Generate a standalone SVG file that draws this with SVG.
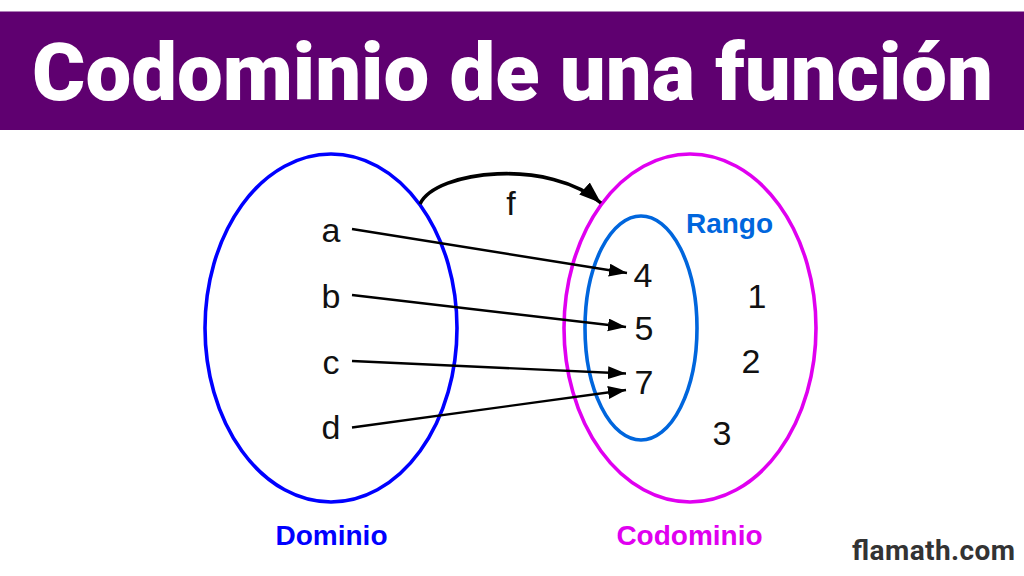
<svg xmlns="http://www.w3.org/2000/svg" width="1024" height="576" viewBox="0 0 1024 576">
<style>
text{font-family:"Liberation Sans",Arial,sans-serif}
.b{font-weight:700;text-anchor:middle}
.l{font-size:34px;fill:#111;text-anchor:middle}
.c{fill:none;stroke:#000;stroke-width:2.4}
.e{fill:none;stroke-width:3.6}
</style>
<defs>
<marker id="a" markerUnits="userSpaceOnUse" markerWidth="20" markerHeight="16" refX="18" refY="6.500" orient="auto"><path d="M0 0L18 6.500L0 13Z" fill="#000"/></marker>
<marker id="b" markerUnits="userSpaceOnUse" markerWidth="24" markerHeight="18" refX="22" refY="8" orient="auto"><path d="M0 0L22 8L0 16Z" fill="#000"/></marker>
</defs>
<rect width="1024" height="576" fill="#fff"/>
<g id="title"><rect x="0" y="11.500" width="1024" height="118.500" fill="#5f0070"/><text x="512.500" y="99.500" font-size="80" font-weight="900" style="font-family:Roboto,sans-serif" fill="#fff" text-anchor="middle" textLength="961" lengthAdjust="spacingAndGlyphs">Codominio de una función</text></g>
<g id="dominio"><ellipse class="e" cx="331" cy="328" rx="126" ry="174" stroke="#0000ff"/><text class="b" x="331.500" y="545" font-size="28" fill="#0000ff">Dominio</text></g>
<g id="codominio"><ellipse class="e" cx="690" cy="328" rx="126" ry="174" stroke="#e000f0"/><text class="b" x="689.500" y="545" font-size="28" fill="#e000f0">Codominio</text></g>
<g id="rango"><ellipse class="e" cx="641" cy="328" rx="56" ry="112" stroke="#0066dd"/><text class="b" x="729.500" y="233" font-size="28" fill="#0066dd">Rango</text></g>
<g id="na"><text class="l" x="331" y="242">a</text></g>
<g id="nb"><text class="l" x="331" y="308">b</text></g>
<g id="nc"><text class="l" x="331" y="374">c</text></g>
<g id="nd"><text class="l" x="331" y="439">d</text></g>
<g id="n4"><text class="l" x="643" y="286.500">4</text></g>
<g id="n5"><text class="l" x="644" y="339.500">5</text></g>
<g id="n7"><text class="l" x="644" y="393.500">7</text></g>
<g id="n1"><text class="l" x="757" y="307.500">1</text></g>
<g id="n2"><text class="l" x="751" y="372.500">2</text></g>
<g id="n3"><text class="l" x="722" y="444.500">3</text></g>
<g id="connectors">
<path class="c" marker-end="url(#a)" d="M352 229L627 273"/>
<path class="c" marker-end="url(#a)" d="M352 295L626 327"/>
<path class="c" marker-end="url(#a)" d="M352 361L626 373.500"/>
<path class="c" marker-end="url(#a)" d="M352 427.500L626 390"/>
<path d="M420 204C436 170 550 158 601 203" fill="none" stroke="#000" stroke-width="3.600" marker-end="url(#b)"/>
</g>
<g id="flabel"><text x="511" y="215" font-size="34" fill="#111" text-anchor="middle">f</text></g>
<g id="brand"><text x="933.500" y="560" font-size="28" font-weight="700" style="font-family:Roboto,sans-serif" fill="#333" text-anchor="middle" textLength="163" lengthAdjust="spacing">flamath.com</text></g>
</svg>
